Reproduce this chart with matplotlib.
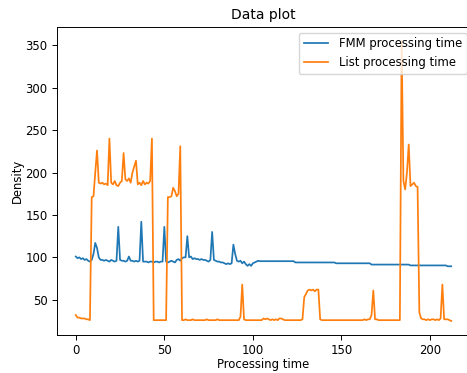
import matplotlib
matplotlib.use("Agg")
import matplotlib.pyplot as plt
import numpy as np

fmm_time = [
    101, 99, 100, 98, 99, 97, 98, 96, 95, 97,      # 0-9
    104, 117, 111, 100, 97, 97, 96, 97, 96, 95,    # 10-19
    97, 96, 95, 96, 136, 97, 96, 96, 95, 96,       # 20-29
    101, 96, 96, 95, 96, 95, 96, 142, 95, 95,      # 30-39
    95, 94, 95, 95, 94, 95, 95, 94, 95, 95,        # 40-49
    136, 95, 94, 95, 96, 95, 94, 97, 98, 96,       # 50-59
    99, 100, 100, 125, 100, 101, 98, 99, 98, 98,   # 60-69
    97, 98, 97, 97, 96, 95, 97, 130, 97, 96,       # 70-79
    95, 95, 94, 94, 93, 92, 93, 92, 93, 115,       # 80-89
    104, 96, 95, 96, 93, 95, 92, 90, 92, 90,       # 90-99
    93, 94, 95, 96, 95.5, 95.5, 95.5, 95.5, 95.5, 95.5,  # 100-109
    95.5, 95.5, 95.5, 95.5, 95.5, 95.5, 95.5, 95.5, 95.5, 95.5,  # 110-119
    95.5, 95.5, 95.5, 95.5, 94, 94, 94, 94, 94, 94,      # 120-129
    94, 94, 94, 94, 94, 94, 94, 94, 94, 94,              # 130-139
    94, 94, 94, 94, 94, 94, 94, 93, 93, 93,              # 140-149
    93, 93, 93, 93, 93, 93, 93, 93, 93, 93,              # 150-159
    93, 93, 93, 93, 93, 93, 93, 91.5, 91.5, 91.5,        # 160-169
    91.5, 91.5, 91.5, 91.5, 91.5, 91.5, 91.5, 91.5, 91.5, 91.5,  # 170-179
    91.5, 91.5, 91.5, 91.5, 91.5, 91.5, 91.5, 91.5, 91.5, 90.5,  # 180-189
    90.5, 90.5, 90.5, 90.5, 90.5, 90.5, 90.5, 90.5, 90.5, 90.5,  # 190-199
    90.5, 90.5, 90.5, 90.5, 90.5, 90.5, 90.5, 90.5, 90.5, 90.5,  # 200-209
    89.5, 89.5, 89.5,                                            # 210-212
]

list_time = [
    32, 29, 29, 28, 28, 28, 27, 27, 26, 171,       # 0-9
    172, 200, 226, 188, 187, 188, 186, 187, 185, 240,  # 10-19
    188, 186, 190, 185, 184, 188, 190, 223, 192, 190,  # 20-29
    193, 188, 200, 207, 214, 186, 188, 185, 190, 186,  # 30-39
    188, 187, 190, 240, 26, 26, 26, 26, 26, 26,    # 40-49
    26, 26, 171, 171, 172, 182, 178, 172, 175, 231,  # 50-59
    26, 26, 27, 26, 26, 26, 27, 26, 26, 26,        # 60-69
    26, 26, 26, 26, 27, 26, 26, 26, 26, 26,        # 70-79
    27, 26, 26, 26, 26, 26, 26, 26, 26, 26,        # 80-89
    26, 26, 26, 30, 68, 27, 26, 26, 26, 26,        # 90-99
    26, 26, 26, 26, 26, 26, 28, 27, 28, 27,        # 100-109
    26, 27, 26, 27, 26, 28, 28, 27, 26, 26,        # 110-119
    26, 26, 26, 26, 26, 26, 26, 26, 27, 53,        # 120-129
    57, 61, 62, 61, 62, 60, 62, 62, 27, 26,        # 130-139
    26, 26, 26, 26, 26, 26, 26, 26, 26, 26,        # 140-149
    26, 26, 26, 26, 26, 26, 26, 26, 26, 26,        # 150-159
    26, 26, 26, 27, 26, 27, 27, 32, 61, 27,        # 160-169
    27, 26, 26, 26, 26, 26, 26, 26, 26, 26,        # 170-179
    26, 26, 26, 26, 355, 190, 180, 200, 233, 184,  # 180-189
    186, 188, 184, 183, 35, 28, 27, 27, 26, 27,    # 190-199
    26, 27, 27, 26, 27, 26, 28, 68, 27, 27,        # 200-209
    27, 26, 25,                                    # 210-212
]

x = np.arange(len(fmm_time))

plt.rcParams['font.family'] = ['DejaVu Sans']
plt.rcParams['font.size'] = 8.33
plt.rcParams['lines.linewidth'] = 1.25
plt.rcParams['axes.linewidth'] = 0.7
plt.rcParams['xtick.major.width'] = 0.7
plt.rcParams['ytick.major.width'] = 0.7
plt.rcParams['xtick.major.size'] = 3.5
plt.rcParams['ytick.major.size'] = 3.5
plt.rcParams['xtick.major.pad'] = 3.2
plt.rcParams['ytick.major.pad'] = 3.3
plt.rcParams['axes.titlepad'] = 5.5

W, H = 467, 373
fig = plt.figure(figsize=(W / 100, H / 100), dpi=100)
left, right, top, bottom = 57, 470, 27, 335
ax = fig.add_axes([left / W, (H - bottom) / H, (right - left) / W, (bottom - top) / H])

ax.plot(x, fmm_time, color='#1f77b4', label='FMM processing time')
ax.plot(x, list_time, color='#ff7f0e', label='List processing time')
ax.set_title('Data plot', fontsize=10)
ax.set_xlabel('Processing time', labelpad=0.6)
ax.set_ylabel('Density', labelpad=1.2)
ax.legend(loc='upper right', bbox_to_anchor=(1.006, 1.0), handlelength=2.15,
          handletextpad=0.9)

fig.savefig('out.png', dpi=100)
